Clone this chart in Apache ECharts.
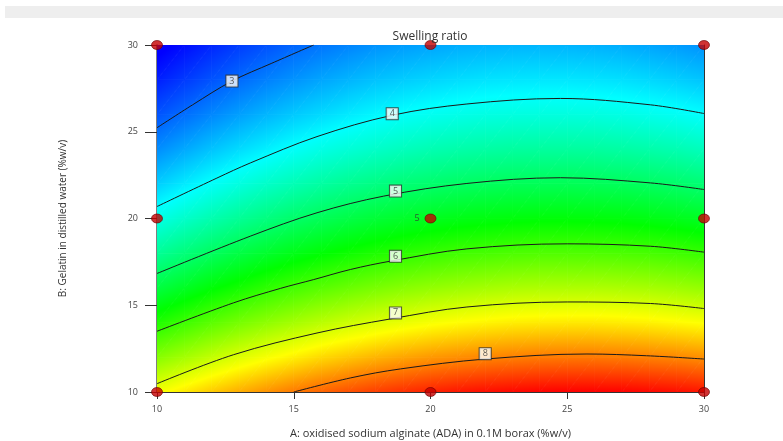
<!DOCTYPE html>
<html>
<head>
<meta charset="utf-8">
<script src="https://cdn.jsdelivr.net/npm/echarts@6/dist/echarts.min.js"></script>
<style>
html,body{margin:0;padding:0;background:#fff;}
#chart{width:783px;height:441px;}
</style>
</head>
<body>
<div id="chart"></div>
<script>
// ---- data ----
const aLevels = [10,11,12,13,14,15,16,17,18,19,20,21,22,23,24,25,26,27,28,29,30];
const bLevels = [10,12,14,16,18,20,22,24,26,28,30];
// swelling ratio surface, one row per bLevel (B = 10 ... 30), one value per aLevel
const swellingB10 = [7.18,7.38,7.57,7.74,7.90,8.05,8.18,8.30,8.41,8.50,8.58,8.65,8.70,8.74,8.77,8.78,8.78,8.77,8.74,8.70,8.65];
const swellingB12 = [6.49,6.68,6.87,7.04,7.20,7.34,7.48,7.59,7.70,7.79,7.87,7.93,7.98,8.02,8.05,8.06,8.06,8.04,8.01,7.97,7.92];
const swellingB14 = [5.84,6.03,6.22,6.39,6.54,6.68,6.81,6.93,7.03,7.12,7.20,7.26,7.31,7.35,7.37,7.38,7.38,7.36,7.33,7.28,7.23];
const swellingB16 = [5.23,5.42,5.61,5.77,5.93,6.07,6.20,6.31,6.41,6.50,6.57,6.63,6.68,6.72,6.74,6.74,6.74,6.72,6.69,6.64,6.58];
const swellingB18 = [4.67,4.86,5.04,5.21,5.36,5.50,5.62,5.73,5.83,5.92,5.99,6.05,6.09,6.13,6.15,6.15,6.14,6.12,6.09,6.04,5.98];
const swellingB20 = [4.15,4.34,4.52,4.68,4.83,4.97,5.09,5.20,5.30,5.38,5.45,5.51,5.55,5.58,5.60,5.60,5.59,5.57,5.53,5.48,5.42];
const swellingB22 = [3.67,3.86,4.04,4.20,4.35,4.48,4.60,4.71,4.80,4.89,4.95,5.01,5.05,5.08,5.09,5.10,5.08,5.06,5.02,4.97,4.90];
const swellingB24 = [3.24,3.42,3.60,3.76,3.90,4.04,4.16,4.26,4.35,4.43,4.50,4.55,4.59,4.62,4.63,4.63,4.62,4.59,4.55,4.50,4.43];
const swellingB26 = [2.85,3.03,3.20,3.36,3.51,3.64,3.75,3.86,3.95,4.03,4.09,4.14,4.18,4.20,4.21,4.21,4.20,4.17,4.12,4.07,4.00];
const swellingB28 = [2.50,2.68,2.85,3.01,3.15,3.28,3.40,3.50,3.59,3.66,3.72,3.77,3.81,3.83,3.84,3.84,3.82,3.79,3.74,3.68,3.61];
const swellingB30 = [2.20,2.38,2.55,2.70,2.84,2.97,3.08,3.18,3.27,3.34,3.40,3.45,3.48,3.50,3.51,3.50,3.48,3.45,3.40,3.34,3.27];

// contour lines [A, B]
const contourLevels = [3,4,5,6,7,8];
const contour3 = [[10,25.23],[11.3,26.55],[12.74,27.92],[14.2,28.95],[15.73,30]];
const contour4 = [[10,20.69],[12.19,22.33],[13.41,23.2],[15.85,24.72],[18.6,25.95],[21.33,26.6],[24.75,26.92],[28.05,26.55],[30,26.05]];
const contour5 = [[10,16.83],[13.41,18.98],[15.85,20.33],[18.29,21.29],[21.33,22.02],[24.75,22.35],[28.05,22.05],[30,21.67]];
const contour6 = [[10,13.5],[12.8,15.14],[14.51,15.97],[15.73,16.48],[17.07,17.06],[18.53,17.54],[21.33,18.25],[25,18.54],[28.05,18.4],[30,18.06]];
const contour7 = [[10,10.48],[12.8,12.15],[15.85,13.4],[18.53,14.21],[21.33,14.9],[25,15.19],[28.05,15.1],[30,14.81]];
const contour8 = [[15,10],[17.07,10.81],[18.9,11.33],[22,11.9],[25.72,12.19],[27.9,12.09],[30,11.9]];
const contourLabelA = [12.74,18.6,18.72,18.72,18.72,22.0];
const contourLabelB = [27.92,26.04,21.58,17.82,14.56,12.21];

// design points
const designA = [10,10,10,20,20,20,30,30,30];
const designB = [10,20,30,10,20,30,10,20,30];
const designReps = [1,1,1,1,5,1,1,1,1];

const chartTitle = 'Swelling ratio';
const xName = 'A: oxidised sodium alginate (ADA) in 0.1M borax (%w/v)';
const yName = 'B: Gelatin in distilled water (%w/v)';

// ---- colour scale (style) ----
const palette = [[2.3,[0,0,255]],[4.0,[0,255,255]],[5.65,[0,255,0]],[7.25,[255,255,0]],[8.78,[255,0,0]]];
function colorAt(v){
  if (v <= palette[0][0]) return rgb(palette[0][1]);
  for (let k=1;k<palette.length;k++){
    if (v <= palette[k][0]){
      const t=(v-palette[k-1][0])/(palette[k][0]-palette[k-1][0]);
      const c0=palette[k-1][1], c1=palette[k][1];
      return rgb([c0[0]+(c1[0]-c0[0])*t, c0[1]+(c1[1]-c0[1])*t, c0[2]+(c1[2]-c0[2])*t]);
    }
  }
  return rgb(palette[palette.length-1][1]);
}
function rgb(c){return 'rgb('+Math.round(c[0])+','+Math.round(c[1])+','+Math.round(c[2])+')';}

const swellingRows = [swellingB10,swellingB12,swellingB14,swellingB16,swellingB18,swellingB20,swellingB22,swellingB24,swellingB26,swellingB28,swellingB30];
const cells = [];
for (let j=0;j<bLevels.length-1;j++){
  for (let i=0;i<aLevels.length-1;i++){
    cells.push([aLevels[i],bLevels[j],aLevels[i+1],bLevels[j+1],
      swellingRows[j][i],swellingRows[j][i+1],swellingRows[j+1][i],swellingRows[j+1][i+1]]);
  }
}

function tri(P1,P2,P3,v1,v2,v3){
  const x1=P1[0],y1=P1[1],x2=P2[0],y2=P2[1],x3=P3[0],y3=P3[1];
  const det=(x2-x1)*(y3-y1)-(x3-x1)*(y2-y1);
  const beta=((v2-v1)*(y3-y1)-(v3-v1)*(y2-y1))/det;
  const gamma=((x2-x1)*(v3-v1)-(x3-x1)*(v2-v1))/det;
  const g2=beta*beta+gamma*gamma;
  const vmin=Math.min(v1,v2,v3), vmax=Math.max(v1,v2,v3);
  let fill;
  if (g2<1e-12 || vmax-vmin<1e-6){
    fill=colorAt((v1+v2+v3)/3);
  } else {
    const cx=(x1+x2+x3)/3, cy=(y1+y2+y3)/3, vc=(v1+v2+v3)/3;
    const t0=(vmin-vc)/g2, t1=(vmax-vc)/g2;
    const stops=[{offset:0,color:colorAt(vmin)}];
    for (const p of palette){
      if (p[0]>vmin && p[0]<vmax) stops.push({offset:(p[0]-vmin)/(vmax-vmin),color:rgb(p[1])});
    }
    stops.push({offset:1,color:colorAt(vmax)});
    fill=new echarts.graphic.LinearGradient(cx+beta*t0,cy+gamma*t0,cx+beta*t1,cy+gamma*t1,stops,true);
  }
  return {type:'polygon',shape:{points:[P1,P2,P3]},style:{fill:fill,stroke:fill,lineWidth:0.8}};
}

function renderCell(params, api){
  const a0=api.value(0), b0=api.value(1), a1=api.value(2), b1=api.value(3);
  const v00=api.value(4), v10=api.value(5), v01=api.value(6), v11=api.value(7);
  const p00=api.coord([a0,b0]), p10=api.coord([a1,b0]), p01=api.coord([a0,b1]), p11=api.coord([a1,b1]);
  return {type:'group',children:[tri(p00,p10,p11,v00,v10,v11),tri(p00,p11,p01,v00,v11,v01)]};
}

const FONT = '"Open Sans", "Noto Sans", sans-serif';
const contours = [contour3,contour4,contour5,contour6,contour7,contour8];

const series = [{
  type:'custom', name:'surface', renderItem:renderCell, data:cells, clip:true,
  encode:{x:[0,2],y:[1,3]}, silent:true, z:1
}];
contours.forEach((c,k)=>{
  series.push({type:'line', name:'contour '+contourLevels[k], data:c, smooth:0.35, showSymbol:false, symbol:'none',
    lineStyle:{color:'#1a1a1a',width:1}, clip:true, z:3, silent:true});
});
series.push({
  type:'scatter', name:'contour labels', z:5, symbolSize:0, silent:true,
  data:contourLevels.map((lv,k)=>({value:[contourLabelA[k],contourLabelB[k]],level:lv})),
  label:{show:true, position:'inside', formatter:(p)=>String(contourLevels[p.dataIndex]),
    fontSize:9, fontFamily:FONT, color:'#333', backgroundColor:'#ffffff', borderColor:'#333', borderWidth:1,
    padding:[1,3,0,3], lineHeight:10}
});
series.push({
  type:'scatter', name:'design points', z:6, clip:false, silent:true,
  symbol:'circle', symbolSize:[11,9],
  itemStyle:{color:'#c40000', borderColor:'#6a0000', borderWidth:0.8},
  data:designA.map((a,k)=>({value:[a,designB[k]],reps:designReps[k]})),
  label:{show:true, position:'left', distance:5, fontSize:9, fontFamily:FONT, color:'#333',
    formatter:(p)=> designReps[p.dataIndex]>1 ? String(designReps[p.dataIndex]) : ''}
});

const chart = echarts.init(document.getElementById('chart'), null, {renderer:'canvas'});
chart.setOption({
  animation:false,
  backgroundColor:'#ffffff',
  graphic:[
    {type:'rect', shape:{x:5,y:6,width:778,height:12}, style:{fill:'#eeeeee'}, silent:true, z:0},
    {type:'text', x:430, y:37, style:{text:chartTitle, textAlign:'center', textVerticalAlign:'middle',
      font:'12px '+FONT, fill:'#333'}, z:10}
  ],
  grid:{left:157, top:45, width:547, height:347, containLabel:false, outerBoundsMode:'none'},
  xAxis:[{
    type:'value', min:10, max:30, interval:5, position:'bottom',
    axisLine:{show:true,onZero:false,lineStyle:{color:'#333',width:1}},
    axisTick:{show:true,length:7,lineStyle:{color:'#333'}},
    axisLabel:{fontSize:9,fontFamily:FONT,color:'#444',margin:13},
    splitLine:{show:false},
    name:xName, nameLocation:'middle', nameGap:36,
    nameTextStyle:{fontSize:11,fontFamily:FONT,color:'#333'}
  },{
    type:'value', min:10, max:30, position:'top',
    axisLine:{show:true,onZero:false,lineStyle:{color:'#333',width:1}},
    axisTick:{show:false}, axisLabel:{show:false}, splitLine:{show:false}
  }],
  yAxis:[{
    type:'value', min:10, max:30, interval:5, position:'left',
    axisLine:{show:true,onZero:false,lineStyle:{color:'#555',width:1.5}},
    axisTick:{show:true,length:12,lineStyle:{color:'#333'}},
    axisLabel:{fontSize:9,fontFamily:FONT,color:'#444',margin:19},
    splitLine:{show:false},
    name:yName, nameLocation:'middle', nameGap:89, nameRotate:90,
    nameTextStyle:{fontSize:10,fontFamily:FONT,color:'#333'}
  },{
    type:'value', min:10, max:30, position:'right',
    axisLine:{show:true,onZero:false,lineStyle:{color:'#333',width:1}},
    axisTick:{show:false}, axisLabel:{show:false}, splitLine:{show:false}
  }],
  series:series
});
</script>
</body>
</html>
